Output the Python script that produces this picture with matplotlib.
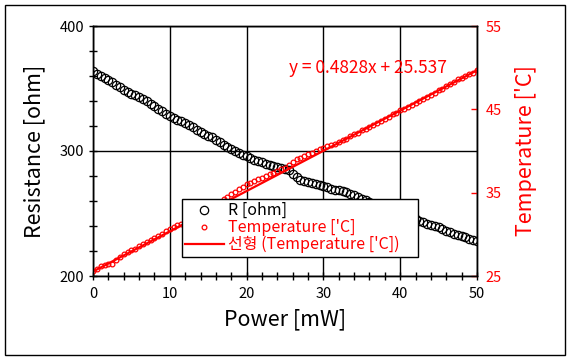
import numpy as np
import matplotlib
matplotlib.use("Agg")
import matplotlib.pyplot as plt
from matplotlib.patches import Rectangle

plt.rcParams['font.family'] = ['Noto Sans CJK KR', 'DejaVu Sans']

# Power [mW], every 0.5 mW
power = np.arange(0, 50.01, 0.5)

# Resistance [ohm]
resistance = [364, 362, 360, 358.5, 357, 355.5, 353, 351, 349, 347.5,
              346, 344.5, 343, 341.5, 340, 338, 336, 334, 332, 330,
              328, 326.5, 325, 324, 322.5, 321, 319, 317, 315, 313.5,
              312, 311, 309, 307, 305, 303, 301.5, 300, 298.5, 297,
              296, 294.5, 293, 292, 291, 290, 289, 288, 287, 286.5,
              286, 284.5, 281.5, 279, 277, 276, 275, 274.5, 274, 273,
              272, 271, 270, 269, 268.5, 268, 267, 266, 265, 263.5,
              262, 260.5, 259, 258, 256.5, 255, 254, 253, 252, 251,
              250, 249, 248, 247, 245.5, 244, 243, 242, 241, 240,
              239, 238, 236, 235, 234, 233, 232, 231, 230, 229,
              228]

# Temperature ['C]
temperature = [25.6, 25.9, 26.2, 26.3, 26.4, 26.5, 26.9, 27.3, 27.6, 27.9,
               28.1, 28.3, 28.6, 28.8, 29.1, 29.3, 29.6, 29.8, 30.1, 30.4,
               30.7, 30.9, 31.1, 31.3, 31.6, 31.9, 32.1, 32.4, 32.6, 32.9,
               33.1, 33.3, 33.6, 33.9, 34.2, 34.5, 34.8, 35.1, 35.4, 35.7,
               36.0, 36.2, 36.4, 36.6, 36.8, 37.0, 37.2, 37.4, 37.6, 37.8,
               38.0, 38.3, 38.7, 39.0, 39.2, 39.4, 39.6, 39.8, 40.0, 40.2,
               40.4, 40.6, 40.7, 40.9, 41.1, 41.3, 41.5, 41.8, 42.0, 42.2,
               42.5, 42.7, 42.9, 43.1, 43.4, 43.6, 43.9, 44.1, 44.4, 44.6,
               44.9, 45.1, 45.3, 45.5, 45.8, 46.0, 46.3, 46.5, 46.7, 47.0,
               47.3, 47.5, 47.8, 48.0, 48.3, 48.6, 48.8, 49.0, 49.2, 49.4,
               49.7]

# linear trendline of temperature (from the chart's equation)
slope = 0.4828
intercept = 25.537

W, H = 569, 361
fig = plt.figure(figsize=(W / 100, H / 100), dpi=100)
fig.patch.set_facecolor('white')

# outer frame
fig.patches.append(Rectangle((5 / W, 1 - 355 / H), 560 / W, 350 / H,
                             transform=fig.transFigure, fill=False,
                             edgecolor='black', linewidth=1))

ax = fig.add_axes([93 / W, 1 - 276 / H, 384 / W, 250 / H])
ax2 = ax.twinx()

l1, = ax.plot(power, resistance, linestyle='none', marker='o', ms=6,
              mfc='none', mec='black', mew=0.9, label='R [ohm]')
l2, = ax2.plot(power, temperature, linestyle='none', marker='o', ms=3.4,
               mfc='none', mec='red', mew=0.9, label="Temperature ['C]")
xfit = np.array([0, 50])
l3, = ax2.plot(xfit, slope * xfit + intercept, color='red', lw=1.6,
               label="선형 (Temperature ['C])")

ax.set_xlim(0, 50)
ax.set_ylim(200, 400)
ax2.set_ylim(25, 55)

ax.set_xticks(range(0, 51, 10))
ax.set_xticks(range(0, 51, 2), minor=True)
ax.set_yticks([200, 300, 400])
ax.set_yticks(range(200, 401, 20), minor=True)
ax2.set_yticks([25, 35, 45, 55])

ax.grid(True, which='major', color='black', linewidth=1)

ax.tick_params(which='both', direction='inout', length=6, width=1,
               labelsize=10.5, colors='black')
ax.tick_params(axis='x', pad=5)
ax2.tick_params(which='both', direction='in', length=4, width=1,
                labelsize=10.5, colors='red', pad=6)

for s in ax.spines.values():
    s.set_linewidth(1)
for s in ax2.spines.values():
    s.set_linewidth(1)

ax.set_xlabel('Power [mW]', fontsize=15.5, fontweight='medium', labelpad=5)
ax.set_ylabel('Resistance [ohm]', fontsize=15.5, fontweight='medium',
              labelpad=10)
ax2.set_ylabel("Temperature ['C]", fontsize=15.5, fontweight='medium',
               color='red', labelpad=10)

fig.text(289 / W, 1 - 68 / H, 'y = 0.4828x + 25.537', color='red',
         fontsize=12.5, ha='left', va='center')

# legend box stretched to the reference width
leg = ax2.legend(handles=[l1, l2, l3], loc='upper left', mode='expand',
                 bbox_to_anchor=(182 / W, 1 - 253 / H, 236 / W, 54 / H),
                 bbox_transform=fig.transFigure, fontsize=11.5,
                 frameon=True, fancybox=False, framealpha=1,
                 edgecolor='black', borderpad=0.2, labelspacing=0.0,
                 handlelength=2.4, handletextpad=0.3, borderaxespad=0)
leg.get_frame().set_linewidth(1)
leg.get_texts()[0].set_color('black')
leg.get_texts()[1].set_color('red')
leg.get_texts()[2].set_color('red')

fig.savefig('out.png', dpi=100)
